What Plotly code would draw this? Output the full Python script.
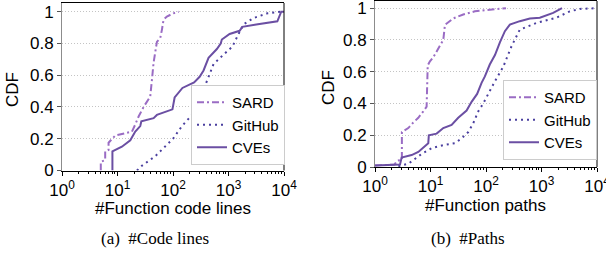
import plotly.graph_objects as go

# ---- data ----
# (a) #Code lines
a_sard_x = [5.0, 5.0, 6.0, 6.0, 6.9, 6.9, 9.1, 18.2, 20.9, 24.0, 29.5, 38.9, 41.7, 44.7, 51.3, 58.9, 63.1, 67.6, 77.6, 102, 126]
a_sard_y = [0, 0.055, 0.065, 0.12, 0.13, 0.175, 0.22, 0.245, 0.29, 0.34, 0.40, 0.466, 0.57, 0.68, 0.81, 0.834, 0.886, 0.95, 0.97, 0.99, 1.0]
a_git_x = [22.4, 27.5, 47.9, 72.4, 100, 145, 234, 282, 355, 427, 537, 813, 1175, 1445, 1862, 2818, 5012, 8511, 10000]
a_git_y = [0, 0.03, 0.09, 0.15, 0.2, 0.28, 0.36, 0.42, 0.51, 0.59, 0.67, 0.73, 0.78, 0.845, 0.92, 0.96, 0.99, 1.0, 1.0]
a_cve_x = [8.1, 8.1, 12.0, 17.0, 20.9, 25.7, 26.9, 44.7, 51.3, 97.7, 107, 148, 240, 302, 355, 437, 617, 724, 759, 1047, 1585, 1778, 3162, 7586, 8913, 10000]
a_cve_y = [0, 0.12, 0.15, 0.19, 0.245, 0.28, 0.31, 0.33, 0.35, 0.385, 0.46, 0.52, 0.555, 0.59, 0.63, 0.71, 0.765, 0.80, 0.825, 0.86, 0.88, 0.905, 0.92, 0.94, 1.0, 1.0]

# (b) #Paths
b_sard_x = [1, 2.24, 2.51, 3.05, 3.05, 3.98, 4.90, 6.03, 7.41, 8.51, 8.91, 9.77, 11.2, 14.8, 17.0, 18.2, 25.7, 38.9, 63.1, 229]
b_sard_y = [0.01, 0.015, 0.04, 0.045, 0.22, 0.245, 0.28, 0.31, 0.35, 0.38, 0.64, 0.665, 0.69, 0.76, 0.80, 0.895, 0.935, 0.96, 0.98, 1.0]
b_git_x = [2.63, 3.98, 7.08, 10.7, 18.2, 27.5, 36.3, 47.9, 58.9, 72.4, 89.1, 112, 145, 204, 288, 407, 813, 1862, 3236, 4898, 10000]
b_git_y = [0.005, 0.02, 0.085, 0.12, 0.14, 0.15, 0.18, 0.22, 0.275, 0.35, 0.40, 0.47, 0.54, 0.63, 0.76, 0.865, 0.907, 0.94, 0.98, 0.995, 1.0]
b_cve_x = [1, 2.82, 3.02, 4.57, 6.03, 7.41, 9.12, 9.33, 12.9, 17.0, 24.0, 31.6, 44.7, 55.0, 69.2, 83.2, 95.5, 117, 145, 178, 219, 269, 407, 617, 933, 1622, 2344]
b_cve_y = [0.01, 0.015, 0.06, 0.075, 0.095, 0.12, 0.15, 0.20, 0.21, 0.245, 0.265, 0.31, 0.355, 0.41, 0.46, 0.53, 0.57, 0.645, 0.705, 0.785, 0.855, 0.896, 0.918, 0.935, 0.94, 0.97, 1.0]

series_names = ["SARD", "GitHub", "CVEs"]
y_ticks = [0, 0.2, 0.4, 0.6, 0.8, 1]
y_ticktext = ["0", "0.2", "0.4", "0.6", "0.8", "1"]
x_ticks = [1, 10, 100, 1000, 10000]
x_ticktext = ["10<sup>0</sup>", "10<sup>1</sup>", "10<sup>2</sup>", "10<sup>3</sup>", "10<sup>4</sup>"]
x_minor = [m * 10 ** k for k in range(4) for m in range(2, 10)]

x_titles = ["#Function code lines", "#Function paths"]
captions = ["(a)  #Code lines", "(b)  #Paths"]

# ---- styles ----
colors = {"SARD": "#9a6cc4", "GitHub": "#4a3f9f", "CVEs": "#6b4fa3"}
dashes = {"SARD": "7px,3px,2px,3px", "GitHub": "2px,4px", "CVEs": "solid"}
FONT = "Liberation Sans, Arial, sans-serif"

fig = go.Figure()

panels = [
    ("x", "y", "legend", [(a_sard_x, a_sard_y), (a_git_x, a_git_y), (a_cve_x, a_cve_y)]),
    ("x2", "y2", "legend2", [(b_sard_x, b_sard_y), (b_git_x, b_git_y), (b_cve_x, b_cve_y)]),
]
for xa, ya, lg, data in panels:
    for name, (xs, ys) in zip(series_names, data):
        fig.add_trace(go.Scatter(
            x=xs, y=ys, mode="lines", name=name, xaxis=xa, yaxis=ya, legend=lg,
            line=dict(color=colors[name], width=2, dash=dashes[name]),
        ))

W, H = 606, 255
xdom = [[62 / W, 284 / W], [375 / W, 597 / W]]
ydom = [[(H - 170.5) / H, (H - 3) / H], [(H - 167) / H, (H - 1) / H]]
yrng = [[0, 1.055], [0, 1.045]]

axis_common_x = dict(
    type="log", range=[0, 4], tickvals=x_ticks, ticktext=x_ticktext, automargin=False,
    ticklabeloverflow="allow",
    showline=True, linecolor="black", linewidth=1, mirror=True,
    ticks="outside", ticklen=4, tickcolor="black", showgrid=False, zeroline=False,
    tickfont=dict(family=FONT, size=17, color="black"),
    minor=dict(tickvals=x_minor, ticks="outside", ticklen=2, tickcolor="black", showgrid=False),
)
axis_common_y = dict(
    tickvals=y_ticks, ticktext=y_ticktext, automargin=False,
    ticklabeloverflow="allow",
    showline=True, linecolor="#8c8c8c", linewidth=1,
    ticks="outside", ticklen=4, tickcolor="#555555",
    showgrid=True, gridcolor="#c4c4c4", griddash="1px,2px", gridwidth=1, zeroline=False,
    tickfont=dict(family=FONT, size=17, color="black"),
)

fig.update_layout(
    width=W, height=H, margin=dict(l=0, r=0, t=0, b=0, autoexpand=False),
    paper_bgcolor="white", plot_bgcolor="white", showlegend=True,
    xaxis=dict(domain=xdom[0], anchor="y", **axis_common_x),
    yaxis=dict(domain=ydom[0], anchor="x", range=yrng[0], **axis_common_y),
    xaxis2=dict(domain=xdom[1], anchor="y2", **axis_common_x),
    yaxis2=dict(domain=ydom[1], anchor="x2", range=yrng[1], **axis_common_y),
    legend=dict(x=285 / W, y=(H - 165) / H, xanchor="right", yanchor="bottom",
                bgcolor="white", bordercolor="#cccccc", borderwidth=1,
                font=dict(family=FONT, size=15, color="black"), itemwidth=30,
                tracegroupgap=0),
    legend2=dict(x=597 / W, y=(H - 160) / H, xanchor="right", yanchor="bottom",
                 bgcolor="white", bordercolor="#cccccc", borderwidth=1,
                 font=dict(family=FONT, size=15, color="black"), itemwidth=30,
                 tracegroupgap=0),
)

# right border of each panel (dark)
for xr, yr in (("x domain", "y domain"), ("x2 domain", "y2 domain")):
    fig.add_shape(type="line", xref=xr, yref=yr, x0=1, x1=1, y0=0, y1=1,
                  line=dict(color="black", width=1))

SANS = dict(family=FONT, size=17, color="black")
SERIF = dict(family="Liberation Serif, serif", size=17, color="black")
ann = []


def add_text(text, px, py, font, angle=0):
    ann.append(dict(text=text, x=px / W, y=(H - py) / H, xref="paper", yref="paper",
                    xanchor="center", yanchor="middle", textangle=angle,
                    showarrow=False, font=font))


add_text("CDF", 13, 90, SANS, -90)
add_text("CDF", 328, 88, SANS, -90)
add_text(x_titles[0], 173, 208, SANS)
add_text(x_titles[1], 485, 205, SANS)
add_text(captions[0], 155, 238, SERIF)
add_text(captions[1], 468, 238, SERIF)
fig.update_layout(annotations=ann)

fig.write_html(
    "out.html",
    config={"displayModeBar": False},
    post_script="document.body.style.margin='0';document.body.style.overflow='hidden';",
)
